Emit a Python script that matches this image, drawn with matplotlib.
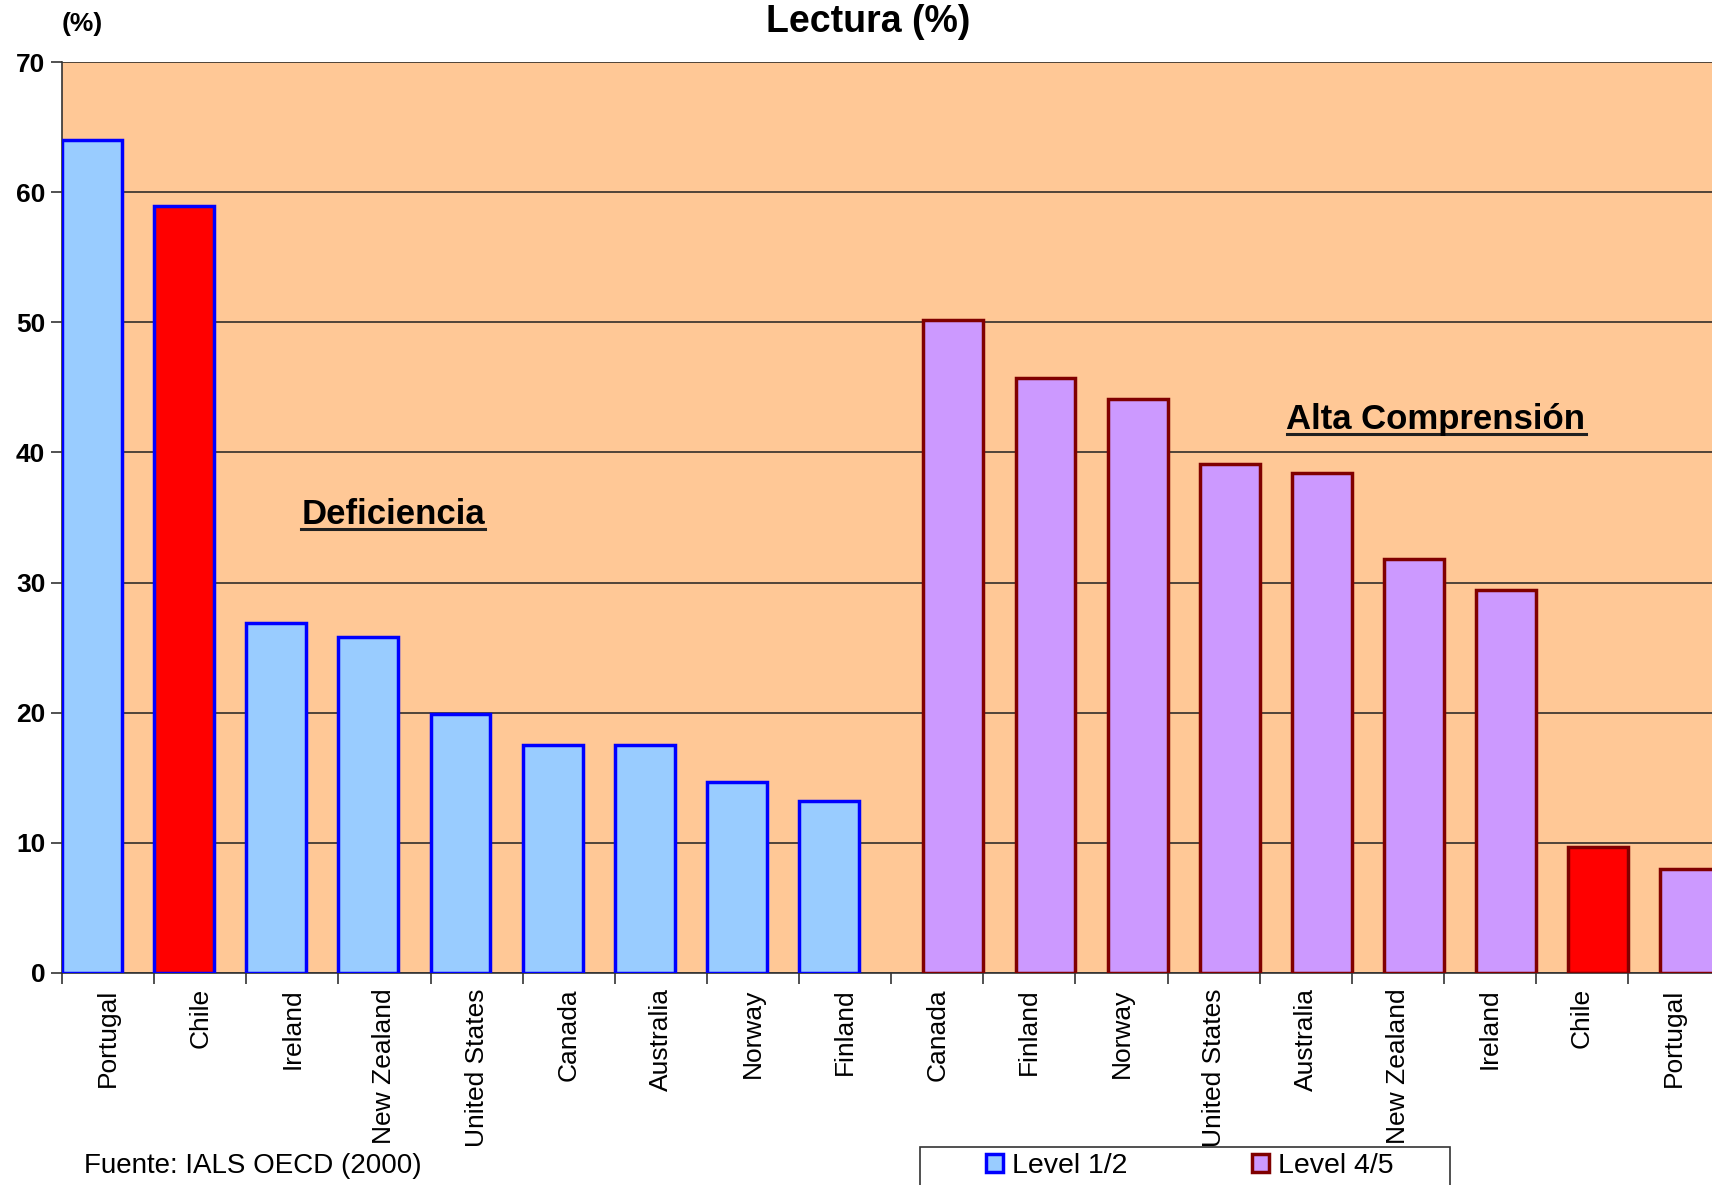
import numpy as np
import matplotlib
matplotlib.use("Agg")
import matplotlib.pyplot as plt
from matplotlib.patches import Patch, Rectangle
from matplotlib.lines import Line2D

plt.rcParams['font.family'] = ['Liberation Sans', 'DejaVu Sans']

# categories: first group Level 1/2, second group Level 4/5
countries = ["Portugal", "Chile", "Ireland", "New Zealand", "United States",
             "Canada", "Australia", "Norway", "Finland",
             "Canada", "Finland", "Norway", "United States", "Australia",
             "New Zealand", "Ireland", "Chile", "Portugal"]
level12 = [64.0, 58.9, 26.9, 25.8, 19.9, 17.5, 17.5, 14.7, 13.2]
level45 = [50.2, 45.7, 44.1, 39.1, 38.4, 31.8, 29.4, 9.7, 8.0]
yticks = [0, 10, 20, 30, 40, 50, 60, 70]

bg = "#FFC896"
blue_fill = "#99CCFF"
purple_fill = "#CC99FF"
red_fill = "#FF0000"

W, H = 1712, 1185
fig = plt.figure(figsize=(W / 100, H / 100), dpi=100)
ax = fig.add_axes([62 / W, 1 - 973 / H, 1 - 62 / W, (973 - 62) / H])
ax.set_facecolor(bg)

n12 = len(level12)
x12 = np.arange(n12)
x45 = np.arange(n12, n12 + len(level45))
bw = 0.65

fills12 = [red_fill if c == "Chile" else blue_fill for c in countries[:n12]]
fills45 = [red_fill if c == "Chile" else purple_fill for c in countries[n12:]]

ax.bar(x12 - 0.5, level12, width=bw, align="edge", color=fills12,
       edgecolor="#0000FF", linewidth=2.5, zorder=3)
ax.bar(x45 + 0.5, level45, width=-bw, align="edge", color=fills45,
       edgecolor="#800000", linewidth=2.5, zorder=3)

ax.set_ylim(0, 70)
ax.set_xlim(-0.5, 17.41)
ax.set_yticks(yticks)
ax.set_yticklabels([str(v) for v in yticks], fontsize=19, fontweight="bold")
ax.yaxis.grid(True, color="#202020", linewidth=1.1, zorder=1)
ax.set_axisbelow(True)

ax.set_xticks(np.arange(len(countries)))
ax.set_xticklabels(countries, rotation=90, fontsize=19)
ax.set_xticks(np.arange(len(countries)) - 0.5, minor=True)
ax.tick_params(axis="x", which="major", length=0, pad=11)
ax.tick_params(axis="x", which="minor", length=8, width=1.2, color="#333333")
ax.tick_params(axis="y", length=8, width=1.2, color="#333333", pad=4)

for s in ["top", "right"]:
    ax.spines[s].set_visible(False)
ax.spines["left"].set_color("#333333")
ax.spines["bottom"].set_color("#333333")
ax.spines["left"].set_linewidth(1.2)
ax.spines["bottom"].set_linewidth(1.2)

fig.text(868 / W, 1 - 22 / H, "Lectura (%)", ha="center", va="center",
         fontsize=27, fontweight="bold")
fig.text(82 / W, 1 - 24 / H, "(%)", ha="center", va="center",
         fontsize=19, fontweight="bold")
fig.text(253 / W, 1 - 1166 / H, "Fuente: IALS OECD (2000)", ha="center",
         va="center", fontsize=20)

labels = [
    fig.text(393 / W, 1 - 515 / H, "Deficiencia", ha="center", va="center",
             fontsize=25, fontweight="bold"),
    fig.text(1436 / W, 1 - 420 / H, "Alta Comprensión", ha="center",
             va="center", fontsize=25, fontweight="bold"),
]

# legend box (cut by the lower edge of the picture)
fig.add_artist(Rectangle((920 / W, -0.02), (1450 - 920) / W,
                         (1 - 1147 / H) + 0.02, transform=fig.transFigure,
                         facecolor="white", edgecolor="#333333", linewidth=1.2))
handles = [Patch(facecolor=blue_fill, edgecolor="#0000FF", linewidth=2.5),
           Patch(facecolor=purple_fill, edgecolor="#800000", linewidth=2.5)]
leg = fig.legend(handles, ["Level 1/2", "Level 4/5"], ncol=2,
                 loc="center left", bbox_to_anchor=(986 / W, 1 - 1166 / H),
                 fontsize=20.5, frameon=False,
                 handlelength=0.6, handleheight=0.6, handletextpad=0.3,
                 columnspacing=4.4, borderpad=0, borderaxespad=0)

# underline the two group labels
fig.canvas.draw()
r = fig.canvas.get_renderer()
for t in labels:
    bb = t.get_window_extent(renderer=r).transformed(fig.transFigure.inverted())
    yline = bb.y0 + 0.002
    fig.add_artist(Line2D([bb.x0, bb.x1], [yline, yline], color="#202020",
                          linewidth=2.2, transform=fig.transFigure))

fig.savefig("out.png", dpi=100, facecolor="white")
